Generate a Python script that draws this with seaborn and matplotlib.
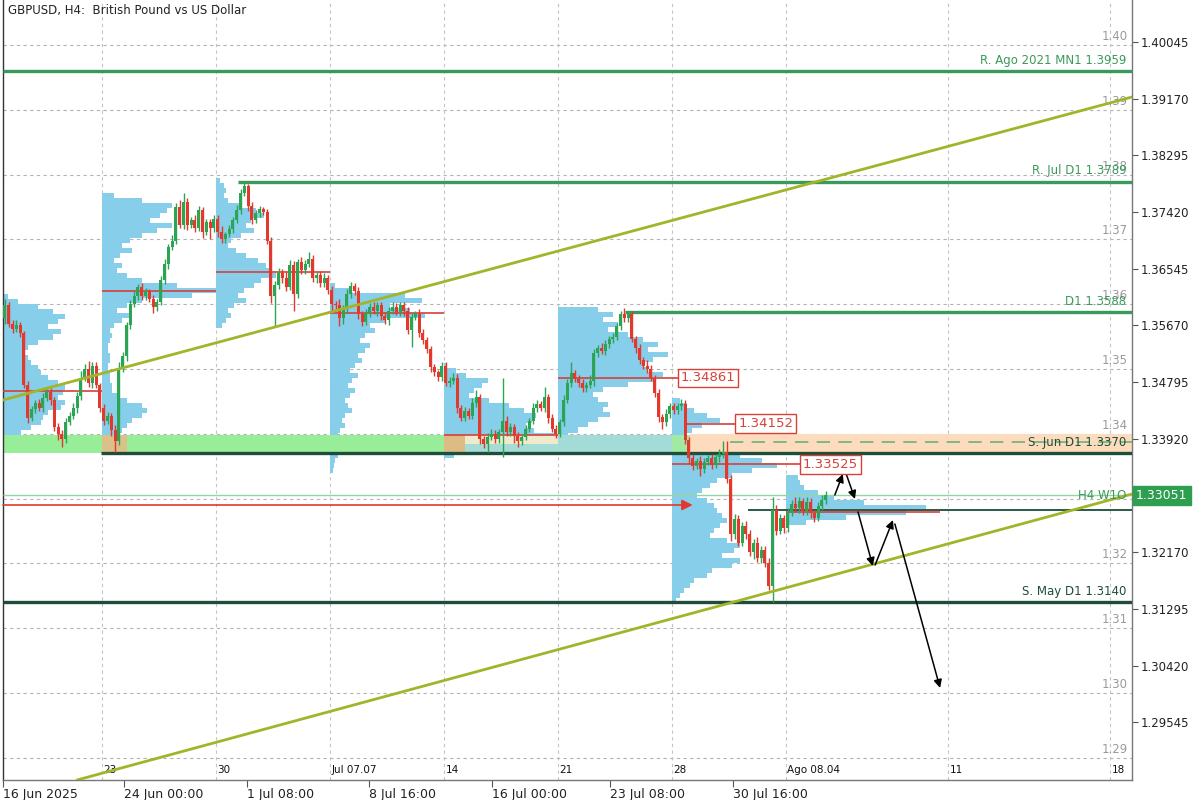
import numpy as np
import matplotlib
matplotlib.use("Agg")
import matplotlib.pyplot as plt
import matplotlib.transforms as mtrans
import seaborn as sns

sns.set_theme(style="white")
plt.rcParams['font.family'] = ['DejaVu Sans']

# ---------------- data (H4 candles, prices as pips above 1.3000) ----------------
first_open = 1.3578
close_w0 = [598, 570, 562, 568, 555, 475, 425, 438, 448, 440, 455, 465, 452, 410, 400, 392,
            418, 428, 440, 458, 486, 500, 478, 505, 475, 440]
close_w1 = [420, 428, 405, 388, 500, 520, 568, 600, 612, 626, 612, 620, 608, 595, 603, 637,
            662, 688, 698, 750, 722, 757, 722, 730, 718, 745, 712, 726, 718, 732]
close_w2 = [712, 700, 708, 716, 730, 745, 772, 782, 752, 730, 740, 746, 742, 698, 612, 630,
            648, 640, 626, 660, 615, 665, 652, 662, 670, 640, 645, 632, 640, 622]
close_w3 = [600, 598, 578, 592, 615, 628, 620, 585, 572, 586, 596, 590, 598, 582, 575, 590,
            596, 588, 598, 590, 560, 580, 585, 555, 545, 530, 503, 495, 487, 505]
close_w4 = [478, 482, 486, 440, 425, 435, 428, 447, 456, 392, 384, 395, 400, 392, 402, 420,
            402, 410, 396, 388, 395, 408, 420, 440, 446, 440, 456, 425, 408, 400]
close_w5 = [418, 452, 478, 493, 485, 478, 470, 475, 482, 525, 532, 528, 538, 546, 550, 566,
            584, 578, 584, 546, 533, 514, 505, 500, 486, 463, 426, 418, 430, 442]
close_w6 = [436, 442, 446, 390, 362, 350, 358, 345, 356, 362, 352, 364, 368, 372, 330, 245,
            268, 232, 258, 245, 218, 232, 208, 220, 200, 165, 282, 250, 270, 255]
close_w7 = [278, 292, 285, 296, 280, 295, 278, 270, 288, 298, 305]

upper_wick = [10, 6, 5, 8, 4, 3, 6, 5, 4, 6, 8, 5, 6, 4, 7, 5, 6, 5, 8, 6,
              10, 8, 12, 6, 5, 4, 6, 5, 4, 8, 10, 6, 5, 6, 8, 5, 6, 5, 4, 6,
              5, 6, 7, 5, 8, 6, 10, 14, 6, 5, 8, 6, 5, 6, 5, 6, 5, 8, 4, 6,
              5, 8, 6, 6, 4, 6, 5, 6, 4, 5, 5, 6, 8, 6, 10, 8, 6, 5, 8, 6,
              10, 6, 5, 6, 8, 5, 6, 5, 10, 6, 8, 6, 5, 6, 5, 6, 5, 8, 6, 5,
              6, 5, 8, 6, 5, 6, 5, 6, 5, 8, 6, 5, 6, 5, 4, 6, 5, 6, 8, 6,
              5, 6, 5, 8, 11, 6, 5, 6, 8, 5, 6, 66, 8, 6, 5, 6, 5, 6, 5, 8,
              6, 5, 16, 6, 5, 6, 5, 8, 6, 17, 6, 5, 6, 5, 8, 6, 5, 8, 6, 5,
              6, 5, 6, 10, 4, 6, 5, 6, 5, 8, 6, 5, 6, 5, 8, 6, 5, 6, 8, 6,
              5, 6, 5, 8, 6, 5, 6, 5, 8, 16, 16, 6, 8, 6, 5, 8, 6, 5, 8, 6,
              6, 8, 20, 8, 6, 5, 8, 6, 10, 6, 5, 8, 6, 5, 6, 8, 6]
lower_wick = [8, 5, 6, 5, 6, 5, 8, 5, 6, 5, 6, 5, 8, 6, 10, 12, 6, 5, 6, 8,
              6, 5, 6, 8, 5, 6, 6, 5, 8, 16, 6, 5, 8, 6, 5, 6, 5, 6, 5, 8,
              6, 5, 6, 8, 5, 6, 5, 6, 8, 5, 6, 5, 10, 6, 18, 6, 8, 5, 6, 5,
              6, 5, 6, 5, 8, 6, 5, 6, 5, 6, 10, 47, 6, 8, 6, 5, 25, 6, 5, 6,
              5, 6, 8, 6, 5, 6, 10, 6, 12, 8, 6, 5, 6, 8, 6, 5, 6, 5, 8, 6,
              5, 8, 6, 5, 6, 8, 6, 26, 5, 6, 6, 5, 8, 6, 5, 6, 5, 6, 5, 8,
              6, 5, 6, 5, 6, 8, 6, 12, 5, 6, 6, 38, 5, 6, 10, 8, 6, 5, 6, 5,
              6, 5, 6, 8, 5, 6, 5, 6, 5, 6, 5, 6, 5, 6, 5, 8, 6, 5, 6, 5,
              6, 5, 6, 5, 6, 5, 8, 6, 5, 6, 5, 6, 8, 10, 6, 5, 6, 5, 6, 6,
              8, 6, 5, 10, 6, 5, 6, 5, 8, 6, 6, 10, 8, 6, 5, 8, 6, 12, 6, 8,
              6, 6, 25, 6, 5, 8, 6, 5, 6, 8, 6, 5, 8, 6, 5, 6, 6]

# weekly volume profiles (anchor = first bar of the week, top price, volumes per level)
profile_anchor = [-0.5, 25.5, 55.5, 85.5, 115.5, 145.5, 175.5, 205.5]
profile_top = [1.3611, 1.3768, 1.3791, 1.3629, 1.3506, 1.3591, 1.3452, 1.3332]
prof_v0 = [5, 15, 35, 50, 62, 55, 45, 58, 50, 35, 25, 20, 25, 28, 35, 38, 45, 55, 62, 60, 55, 62, 58,
           45, 40, 38, 28, 18, 10, 5]
prof_v1 = [12, 40, 70, 65, 58, 48, 70, 55, 40, 28, 20, 30, 18, 12, 20, 15, 25, 40, 75, 114, 90, 40,
           25, 15, 30, 20, 12, 8, 10, 8, 6, 6, 8, 8, 6, 6, 8, 8, 10, 10, 18, 25, 40, 45, 40, 30, 25,
           20, 15, 12, 8, 6]
prof_v2 = [4, 8, 10, 8, 12, 25, 40, 48, 35, 30, 38, 25, 15, 12, 20, 30, 42, 50, 56, 60, 45, 38, 28,
           22, 30, 18, 12, 15, 10, 6]
prof_v3 = [5, 20, 75, 92, 60, 80, 95, 55, 40, 45, 35, 30, 40, 35, 28, 32, 25, 20, 28, 22, 18, 25, 20,
           15, 18, 22, 15, 12, 15, 10, 8, 10, 8, 6, 8, 5, 4, 3]
prof_v4 = [3, 12, 22, 44, 38, 30, 25, 45, 65, 80, 92, 88, 82, 90, 110, 95, 60, 30, 10]
prof_v5 = [40, 55, 45, 60, 50, 70, 85, 100, 90, 110, 95, 85, 90, 105, 95, 70, 45, 35, 40, 50, 45, 52,
           40, 30, 20, 10]
prof_v6 = [8, 15, 22, 35, 48, 30, 20, 12, 15, 25, 40, 68, 90, 105, 80, 60, 45, 38, 30, 25, 35, 42, 45,
           50, 55, 48, 42, 38, 55, 68, 62, 50, 68, 60, 40, 35, 22, 18, 12, 8, 4]
prof_v7 = [12, 14, 18, 32, 48, 78, 140, 120, 60, 20]
poc_price = [1.3466, 1.3620, 1.3650, 1.3586, 1.3398, 1.34861, 1.33525, 1.3279]
poc_end = [25.5, 55.5, 85.5, 115.5, 145.5, 177.8, 210.0, 246.1]

# support / resistance levels
level_price = [1.3959, 1.3789, 1.3588, 1.3370, 1.3140]
level_start = [-0.5, 61.4, 163.2, 25.3, -0.5]
level_label = ["R. Ago 2021 MN1 1.3959", "R. Jul D1 1.3789", "D1 1.3588",
               "S. Jun D1 1.3370", "S. May D1 1.3140"]
level_kind = ["res", "res", "res", "sup", "sup"]

# trend channel lines (bar index, price)
upper_trend_x = [-0.5, 296.6]
upper_trend_y = [1.3452, 1.39196]
lower_trend_x = [19.0, 296.6]
lower_trend_y = [1.28656, 1.33070]

# projected path (black arrows)
proj_x0 = [218.4, 221.3, 224.5, 229.0, 234.2]
proj_y0 = [1.33054, 1.33394, 1.32792, 1.31974, 1.32607]
proj_x1 = [220.5, 223.7, 228.4, 233.7, 246.1]
proj_y1 = [1.33378, 1.32992, 1.31958, 1.32668, 1.30076]

current_price = 1.33051
right_ticks = [1.40045, 1.39170, 1.38295, 1.37420, 1.36545, 1.35670, 1.34795, 1.33920,
               1.32170, 1.31295, 1.30420, 1.29545]
grid_prices = [1.29, 1.30, 1.31, 1.32, 1.33, 1.34, 1.35, 1.36, 1.37, 1.38, 1.39, 1.40]
grid_labels_shown = [1.29, 1.30, 1.31, 1.32, 1.34, 1.35, 1.36, 1.37, 1.38, 1.39, 1.40]
week_lines = [25.5, 55.5, 85.5, 115.5, 145.5, 175.5, 205.5, 248.2, 290.8]
week_labels = ["23", "30", "Jul 07.07", "14", "21", "28", "Ago 08.04", "11", "18"]
date_tick_pos = [-0.5, 31.3, 63.7, 95.8, 128.2, 159.2, 191.6]
date_tick_labels = ["16 Jun 2025", "24 Jun 00:00", "1 Jul 08:00", "8 Jul 16:00",
                    "16 Jul 00:00", "23 Jul 08:00", "30 Jul 16:00"]

# ---------------- derived ----------------
closes = 1.3 + np.array(close_w0 + close_w1 + close_w2 + close_w3 + close_w4 +
                        close_w5 + close_w6 + close_w7) / 10000.0
n = len(closes)
xb = np.arange(n)
opens = np.r_[first_open, closes[:-1]]
highs = np.maximum(opens, closes) + np.array(upper_wick[:n]) / 10000.0
lows = np.minimum(opens, closes) - np.array(lower_wick[:n]) / 10000.0

GREEN_C = '#2BA553'
RED_C = '#E2392C'
RES_C = '#3A9A5B'
SUP_C = '#1E4D3A'
TREND_C = '#A2B52A'
BLUE_P = '#87CEEB'
POC_C = '#D8403A'

fig = plt.figure(figsize=(12, 8), dpi=100)
ax = fig.add_axes([3 / 1200, 20 / 800, 1129 / 1200, 780 / 800])
XMAX = 296.6
ax.set_xlim(-0.5, XMAX)
ax.set_ylim(1.28656, 1.40693)
ax.set_facecolor('white')

# grid
for g in grid_prices:
    ax.axhline(g, color='#b4b4b4', lw=0.8, ls=(0, (3, 3)), zorder=0)
for w in week_lines:
    ax.axvline(w, color='#c4c4c4', lw=0.8, ls=(0, (3, 3)), zorder=0)

# volume profiles
prof_step = 0.000772
profiles = [prof_v0, prof_v1, prof_v2, prof_v3, prof_v4, prof_v5, prof_v6, prof_v7]
for anchor, top, vols in zip(profile_anchor, profile_top, profiles):
    lv = top - prof_step * np.arange(len(vols))
    ax.barh(lv, np.array(vols) / 3.8, left=anchor, height=prof_step, color=BLUE_P,
            lw=0, zorder=1.5)

# zone (support band)
zone_x0 = [-0.5, 25.5, 115.5, 121.0, 121.0, 145.5, 175.5, 180.3]
zone_x1 = [115.5, 32.1, 121.0, 145.5, 145.5, 175.5, 180.3, XMAX]
zone_lo = [1.3370, 1.3372, 1.3370, 1.3384, 1.3370, 1.3370, 1.3370, 1.3370]
zone_hi = [1.3398, 1.3398, 1.3398, 1.3398, 1.3384, 1.3398, 1.3398, 1.3400]
zone_col = ['#98EE98', '#DCC08A', '#DCBC84', '#EEEACB', '#A6DCD6', '#A3DCD6', '#A0EAA4', '#FCDCBC']
for a, b, lo, hi, c in zip(zone_x0, zone_x1, zone_lo, zone_hi, zone_col):
    ax.fill_between([a, b], lo, hi, color=c, lw=0, zorder=1.8)

# POC lines
for anchor, p, e in zip(profile_anchor, poc_price, poc_end):
    ax.hlines(p, anchor, e, color=POC_C, lw=1.2, zorder=3)
ax.hlines(1.34152, 179.0, 193.0, color=POC_C, lw=1.2, zorder=3)

# levels
for p, s, lab, k in zip(level_price, level_start, level_label, level_kind):
    c = RES_C if k == "res" else SUP_C
    ax.hlines(p, s, XMAX, color=c, lw=2.4, zorder=3.5)
    ax.annotate(lab, xy=(XMAX, p), xytext=(-4, 3), textcoords='offset points',
                ha='right', va='bottom', fontsize=8.5, color=c, zorder=7)
ax.hlines(1.3387, 190.8, XMAX, color='#6DAF7D', lw=1.2, ls=(0, (8, 5)), zorder=3)
ax.hlines(current_price, -0.5, XMAX, color='#93D6A2', lw=1.0, zorder=3)
ax.hlines(1.3282, 195.6, XMAX, color='#2B5A45', lw=1.4, zorder=3)
ax.annotate("H4 W1O", xy=(XMAX, current_price), xytext=(-4, 0), textcoords='offset points',
            ha='right', va='center', fontsize=8.5, color=RES_C, zorder=7)

# red arrow
ax.annotate('', xy=(181.0, 1.3290), xytext=(-0.5, 1.3290),
            arrowprops=dict(arrowstyle='-|>', color=RED_C, lw=1.2, mutation_scale=16,
                            shrinkA=0, shrinkB=0), zorder=3)

# candles
col = np.where(closes >= opens, GREEN_C, RED_C)
ax.vlines(xb, lows, highs, colors=col, lw=1.0, zorder=4)
ax.bar(xb, np.maximum(np.abs(closes - opens), 0.00006), bottom=np.minimum(opens, closes),
       width=0.78, color=col, lw=0, zorder=4)

# trend lines
sns.lineplot(x=upper_trend_x, y=upper_trend_y, ax=ax, color=TREND_C, lw=2.0, zorder=5)
sns.lineplot(x=lower_trend_x, y=lower_trend_y, ax=ax, color=TREND_C, lw=2.0, zorder=5)

# projection arrows
for a0, b0, a1, b1 in zip(proj_x0, proj_y0, proj_x1, proj_y1):
    ax.annotate('', xy=(a1, b1), xytext=(a0, b0),
                arrowprops=dict(arrowstyle='-|>', color='black', lw=1.1, mutation_scale=12,
                                shrinkA=0, shrinkB=0), zorder=6)

# POC value boxes
poc_box_x = [177.8, 193.0, 210.0]
poc_box_p = [1.34861, 1.34152, 1.33525]
for bx, bp in zip(poc_box_x, poc_box_p):
    ax.text(bx, bp, f"{bp:.5f}", fontsize=9.5, color=POC_C, ha='left', va='center', zorder=7,
            bbox=dict(boxstyle='square,pad=0.22', fc='white', ec=POC_C, lw=1.0))

# inner labels
trans_xd_ya = mtrans.blended_transform_factory(ax.transData, ax.transAxes)
for w, lab in zip(week_lines, week_labels):
    ax.text(w + 0.4, 0.013, lab, transform=trans_xd_ya, fontsize=7.5, color='#111',
            ha='left', va='center')
trans_xa_yd = mtrans.blended_transform_factory(ax.transAxes, ax.transData)
for g in grid_labels_shown:
    ax.text(0.9965, g + 0.0003, f"{g:.2f}", transform=trans_xa_yd, fontsize=8.5,
            color='#9a9a9a', ha='right', va='bottom')

ax.text(0.004, 0.987, "GBPUSD, H4:  British Pound vs US Dollar", transform=ax.transAxes,
        fontsize=8.5, color='#222', ha='left', va='center')

# current price box
ax.text(1.0035, current_price, f"{current_price:.5f}", transform=trans_xa_yd, ha='left',
        va='center', color='white', fontsize=9,
        bbox=dict(boxstyle='square,pad=0.25', fc='#2E9E4F', ec='#2E9E4F'), clip_on=False)

# axes styling
ax.yaxis.tick_right()
ax.set_yticks(right_ticks)
ax.set_yticklabels([f"{t:.5f}" for t in right_ticks])
ax.set_xticks(date_tick_pos)
ax.set_xticklabels(date_tick_labels, ha='left')
ax.tick_params(axis='y', right=True, left=False, labelright=True, labelleft=False,
               length=4, width=0.8, color='#555', labelsize=8.5, labelcolor='#222', pad=2)
ax.tick_params(axis='x', bottom=True, length=5, width=0.8, color='#555', labelsize=9,
               labelcolor='#222', pad=1)
ax.grid(False)
for s in ['left', 'bottom', 'right']:
    ax.spines[s].set_visible(True)
    ax.spines[s].set_color('#777')
    ax.spines[s].set_linewidth(1.0)
ax.spines['left'].set_color('#333')
ax.spines['top'].set_visible(False)
ax.set_xlabel('')
ax.set_ylabel('')
legend = ax.get_legend()
if legend is not None:
    legend.remove()

fig.savefig('out.png', dpi=100)
